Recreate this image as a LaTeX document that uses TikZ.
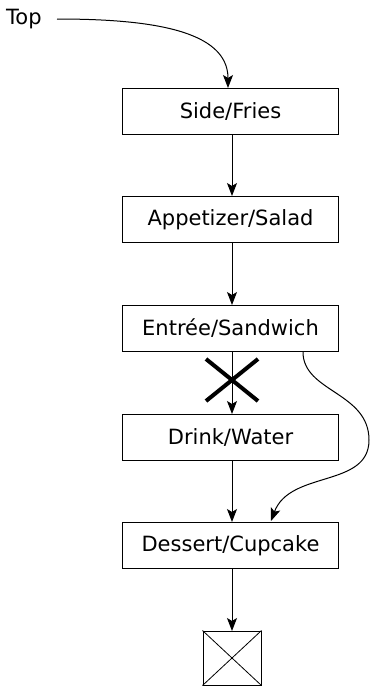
\documentclass[tikz,border=0pt]{standalone}
\usepackage{fontspec}
\setmainfont{DejaVu Sans}
\usetikzlibrary{arrows.meta,calc}
\begin{document}
\begin{tikzpicture}[x=1pt,y=-1pt,
  stepbox/.style={draw,line width=1pt,minimum width=216pt,minimum height=46pt,inner sep=0pt,font=\fontsize{21}{25}\selectfont},
  conn/.style={line width=1pt,-{Stealth[length=13pt,width=10pt,inset=3pt]}}]
\useasboundingbox (0,0) rectangle (370,686);
\node[font=\fontsize{21}{25}\selectfont,anchor=west,inner sep=0pt] (top) at (6,19) {Top};
\node[stepbox] (side) at (230.5,111) {Side/Fries};
\node[stepbox] (app) at (230.5,219.5) {Appetizer/Salad};
\node[stepbox] (ent) at (230.5,328.5) {Entrée/Sandwich};
\node[stepbox] (drink) at (230.5,437) {Drink/Water};
\node[stepbox] (des) at (230.5,545.5) {Dessert/Cupcake};
\node[draw,line width=1pt,minimum width=58pt,minimum height=54pt,inner sep=0pt] (term) at (232,658) {};
\draw[line width=0.8pt] (term.north west) -- (term.south east) (term.north east) -- (term.south west);
\coordinate (ts) at (57,19);
\draw[conn] (ts) .. controls (150,19) and (228,30) .. (228,88);
\draw[conn] (232,134) -- (232,196);
\draw[conn] (232,243) -- (232,305);
\draw[conn] (232,352) -- (232,414);
\draw[conn] (232,460) -- (232,522);
\draw[conn] (232,569) -- (232,631);
\coordinate (es) at (303,352);
\coordinate (mid) at (369,440);
\draw[conn] (es) .. controls (303,392) and (369,392) .. (mid) .. controls (369,488) and (290,470) .. (271,521);
\coordinate (c) at (232,380);
\draw[line width=4pt] ($(c)+(-26,-21)$) -- ($(c)+(26,21)$) ($(c)+(26,-21)$) -- ($(c)+(-26,21)$);
\end{tikzpicture}
\end{document}
